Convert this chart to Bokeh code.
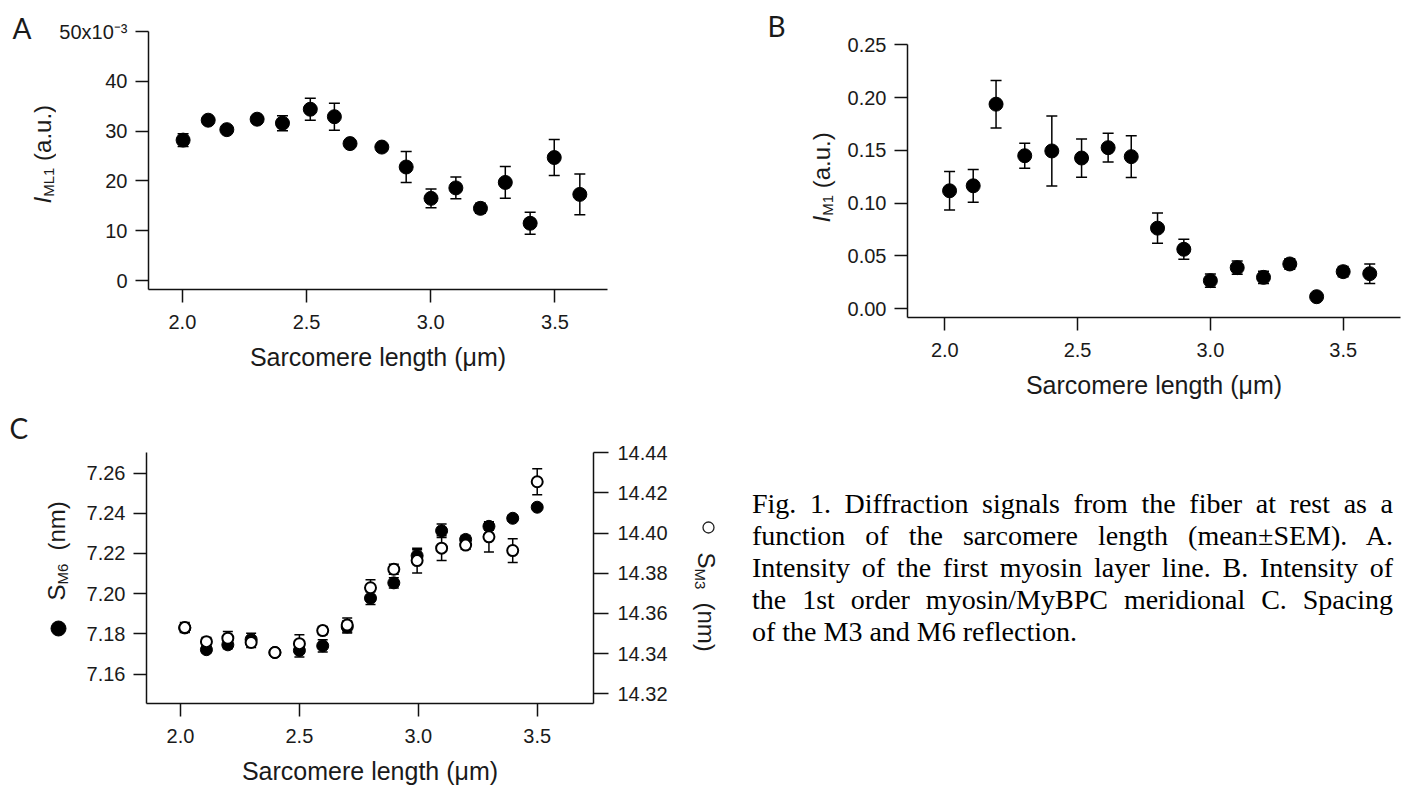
from math import pi
from bokeh.plotting import figure
from bokeh.models import (Range1d, LinearAxis, FixedTicker, NumeralTickFormatter, Label,
                          Whisker, TeeHead, ColumnDataSource, Div)
from bokeh.layouts import row, column
from bokeh.embed import file_html
from bokeh.resources import INLINE

# ---------------- data ----------------
# Panel A: intensity of first myosin layer line (x10^-3 a.u.)
sl_a = [2.003, 2.104, 2.179, 2.301, 2.403, 2.515, 2.612, 2.675, 2.803, 2.901,
        3.001, 3.101, 3.200, 3.300, 3.400, 3.497, 3.600]
iml1 = [28.2, 32.2, 30.3, 32.4, 31.6, 34.4, 32.9, 27.5, 26.8, 22.8,
        16.5, 18.6, 14.5, 19.7, 11.5, 24.7, 17.3]
iml1_sem = [1.3, 0.5, 0.4, 0.5, 1.5, 2.2, 2.7, 0.4, 0.5, 3.1,
            1.9, 2.2, 1.0, 3.2, 2.2, 3.6, 4.1]

# Panel B: intensity of M1 meridional (a.u.)
sl_b = [2.018, 2.107, 2.193, 2.301, 2.403, 2.515, 2.615, 2.702, 2.801, 2.900,
        3.000, 3.101, 3.200, 3.299, 3.400, 3.500, 3.600]
im1 = [0.1117, 0.1164, 0.1937, 0.1449, 0.1494, 0.1427, 0.1525, 0.1440, 0.0763, 0.0563,
       0.0266, 0.0389, 0.0297, 0.0424, 0.0114, 0.0351, 0.0332]
im1_sem = [0.0182, 0.0155, 0.0225, 0.0118, 0.0332, 0.0181, 0.0136, 0.0198, 0.0143, 0.0094,
           0.0063, 0.0063, 0.0059, 0.0050, 0.0015, 0.0048, 0.0092]

# Panel C: spacing of M6 (left axis, filled) and M3 (right axis, open), nm
sl_c = [2.018, 2.109, 2.199, 2.297, 2.397, 2.500, 2.598, 2.701, 2.799, 2.897,
        2.995, 3.098, 3.199, 3.297, 3.397, 3.500]
sm6 = [7.1830, 7.1722, 7.1746, 7.1773, 7.1708, 7.1718, 7.1741, 7.1835, 7.1978, 7.2054,
       7.2189, 7.2313, 7.2270, 7.2335, 7.2375, 7.2430]
sm6_sem = [0.0020, 0.0015, 0.0020, 0.0030, 0.0012, 0.0033, 0.0030, 0.0030, 0.0032, 0.0025,
           0.0030, 0.0034, 0.0020, 0.0020, 0.0015, 0.0010]
sm3 = [14.3530, 14.3460, 14.3477, 14.3456, 14.3406, 14.3450, 14.3515, 14.3543, 14.3728, 14.3820,
       14.3863, 14.3925, 14.3940, 14.3981, 14.3913, 14.4255]
sm3_sem = [0.0025, 0.0020, 0.0033, 0.0025, 0.0015, 0.0044, 0.0020, 0.0035, 0.0040, 0.0025,
           0.0062, 0.0061, 0.0020, 0.0075, 0.0059, 0.0065]

x_ticks = [2.0, 2.5, 3.0, 3.5]
a_y_ticks = [0, 10, 20, 30, 40, 50]
b_y_ticks = [0.0, 0.05, 0.10, 0.15, 0.20, 0.25]
c_left_ticks = [7.16, 7.18, 7.20, 7.22, 7.24, 7.26]
c_right_ticks = [14.32, 14.34, 14.36, 14.38, 14.40, 14.42, 14.44]
x_title = "Sarcomere length (μm)"
caption_lines = [
    "Fig. 1. Diffraction signals from the fiber at rest as a",
    "function of the sarcomere length (mean±SEM). A.",
    "Intensity of the first myosin layer line. B. Intensity of",
    "the 1st order myosin/MyBPC meridional C. Spacing",
    "of the M3 and M6 reflection.",
]

FONT = "Liberation Sans"
INK = "#1a1a1a"
ROW1_H = 410
ROW2_H = 377


def style_axis(ax, standoff=8, tick=13):
    ax.axis_line_width = 1.5
    ax.axis_line_color = "#111111"
    ax.major_tick_line_width = 1.5
    ax.major_tick_line_color = "#111111"
    ax.major_tick_out = tick
    ax.major_tick_in = 0
    ax.minor_tick_line_color = None
    ax.major_label_text_font = FONT
    ax.major_label_text_font_size = "20px"
    ax.major_label_text_color = INK
    ax.major_label_standoff = standoff
    ax.axis_label_text_font = FONT
    ax.axis_label_text_font_size = "25px"
    ax.axis_label_text_font_style = "normal"
    ax.axis_label_text_color = INK
    ax.axis_label_standoff = 11


def make_fig(width, height, xr, yr, left, right, top, bottom):
    p = figure(width=width, height=height, x_range=xr, y_range=yr,
               output_backend="svg", toolbar_location=None,
               min_border_left=left, min_border_right=right,
               min_border_top=top, min_border_bottom=bottom)
    p.outline_line_color = None
    p.xgrid.visible = False
    p.ygrid.visible = False
    p.background_fill_color = "white"
    p.border_fill_color = "white"
    xa = p.xaxis[0]
    style_axis(xa, standoff=12)
    xa.ticker = FixedTicker(ticks=x_ticks)
    xa.formatter = NumeralTickFormatter(format="0.0")
    xa.axis_label = x_title
    style_axis(p.yaxis[0], standoff=8)
    return p


def text_fig(width, height):
    # blank strip whose frame is the whole canvas: 1 data unit = 1 px, y downward
    p = figure(width=width, height=height, x_range=Range1d(0, width),
               y_range=Range1d(height, 0), output_backend="svg", toolbar_location=None,
               x_axis_location=None, y_axis_location=None,
               min_border_left=0, min_border_right=0, min_border_top=0, min_border_bottom=0)
    p.outline_line_color = None
    p.xgrid.visible = False
    p.ygrid.visible = False
    p.background_fill_color = "white"
    p.border_fill_color = "white"
    return p


def add_err(p, x, y, e, head=11, y_range_name="default"):
    src = ColumnDataSource(dict(x=x, lo=[a - b for a, b in zip(y, e)],
                                hi=[a + b for a, b in zip(y, e)]))
    w = Whisker(source=src, base="x", lower="lo", upper="hi",
                line_color="black", line_width=1.5,
                upper_head=TeeHead(size=head, line_width=1.5, line_color="black"),
                lower_head=TeeHead(size=head, line_width=1.5, line_color="black"),
                y_range_name=y_range_name)
    p.add_layout(w)


def lab(p, text, x, y, size="24px", angle=0.0, font=FONT, style="normal",
        align="left", color=INK):
    p.add_layout(Label(x=x, y=y, text=text, angle=angle, text_font=font,
                       text_font_size=size, text_font_style=style, text_align=align,
                       text_baseline="middle", text_color=color))


# ---------------- Panel A ----------------
tA = text_fig(56, ROW1_H)
lab(tA, "A", 12, 27, size="28px", font="Lato")
lab(tA, "I", 42, 203, angle=pi / 2, style="italic")
lab(tA, "ML1", 48, 196.3, size="15px", angle=pi / 2)
lab(tA, "(a.u.)", 42, 160.4, angle=pi / 2)

pA = make_fig(644, ROW1_H, Range1d(1.8637, 3.7114), Range1d(-1.8, 50.01), 90, 93, 31, 121)
pA.yaxis[0].ticker = FixedTicker(ticks=a_y_ticks)
pA.yaxis[0].major_label_overrides = {50: "50x10\u207b\u00b3"}
add_err(pA, sl_a, iml1, iml1_sem)
pA.scatter(sl_a, iml1, marker="circle", size=14, fill_color="black", line_color="black")

# ---------------- Panel B ----------------
tB = text_fig(140, ROW1_H)
lab(tB, "B", 67, 25, size="28px", font="Lato")
lab(tB, "I", 121, 222, angle=pi / 2, style="italic")
lab(tB, "M1", 127, 215.3, size="15px", angle=pi / 2)
lab(tB, "(a.u.)", 121, 187.8, angle=pi / 2)

pB = make_fig(563, ROW1_H, Range1d(1.8596, 3.7158), Range1d(-0.0083, 0.2502), 67, 3, 44, 93)
pB.yaxis[0].ticker = FixedTicker(ticks=b_y_ticks)
pB.yaxis[0].formatter = NumeralTickFormatter(format="0.00")
add_err(pB, sl_b, im1, im1_sem)
pB.scatter(sl_b, im1, marker="circle", size=14, fill_color="black", line_color="black")

# ---------------- Panel C ----------------
tC = text_fig(78, ROW2_H)
lab(tC, "C", 9, 17, size="28px", font="Lato")
tC.scatter([58], [218], marker="circle", size=15, fill_color="black", line_color="black")
lab(tC, "S", 56, 190, angle=pi / 2)
lab(tC, "M6", 62, 174, size="15px", angle=pi / 2)
lab(tC, "(nm)", 56, 140, angle=pi / 2)

pC = make_fig(592, ROW2_H, Range1d(1.857, 3.7367), Range1d(7.14544, 7.2702), 68, 77, 42, 78)
pC.yaxis[0].ticker = FixedTicker(ticks=c_left_ticks)
pC.yaxis[0].formatter = NumeralTickFormatter(format="0.00")
pC.extra_y_ranges = {"right": Range1d(14.31524, 14.44005)}
rax = LinearAxis(y_range_name="right")
style_axis(rax, standoff=9, tick=15)
rax.ticker = FixedTicker(ticks=c_right_ticks)
rax.formatter = NumeralTickFormatter(format="0.00")
pC.add_layout(rax, "right")
add_err(pC, sl_c, sm6, sm6_sem, head=10)
add_err(pC, sl_c, sm3, sm3_sem, head=10, y_range_name="right")
pC.scatter(sl_c, sm6, marker="circle", size=12, fill_color="black", line_color="black")
pC.scatter(sl_c, sm3, marker="circle", size=11, fill_color="white", line_color="black",
           line_width=2, y_range_name="right")

tR = text_fig(78, ROW2_H)
tR.scatter([38], [117], marker="circle", size=11, fill_color="white", line_color="#222222",
           line_width=1.3)
lab(tR, "S", 35.7, 142, angle=-pi / 2)
lab(tR, "M3", 29.7, 158, size="15px", angle=-pi / 2)
lab(tR, "(nm)", 35.7, 192, angle=-pi / 2)

# ---------------- Caption ----------------
parts = []
for i, ln in enumerate(caption_lines):
    last = "justify" if i < len(caption_lines) - 1 else "left"
    parts.append(f'<div style="text-align:justify;text-align-last:{last}">{ln}</div>')
cap_html = ('<div style="margin-left:4px;margin-top:78px;width:641px;'
            "font-family:'Liberation Serif';font-size:28px;line-height:32px;color:#000\">"
            + "".join(parts) + "</div>")
cap = Div(text=cap_html, width=655, height=ROW2_H, margin=0)

# each plot in its own column so that rows do not align the plot frames
layout = column(
    row(column(tA), column(pA), column(tB), column(pB)),
    row(column(tC), column(pC), column(tR), cap),
)
open("out.html", "w").write(file_html(layout, INLINE))
